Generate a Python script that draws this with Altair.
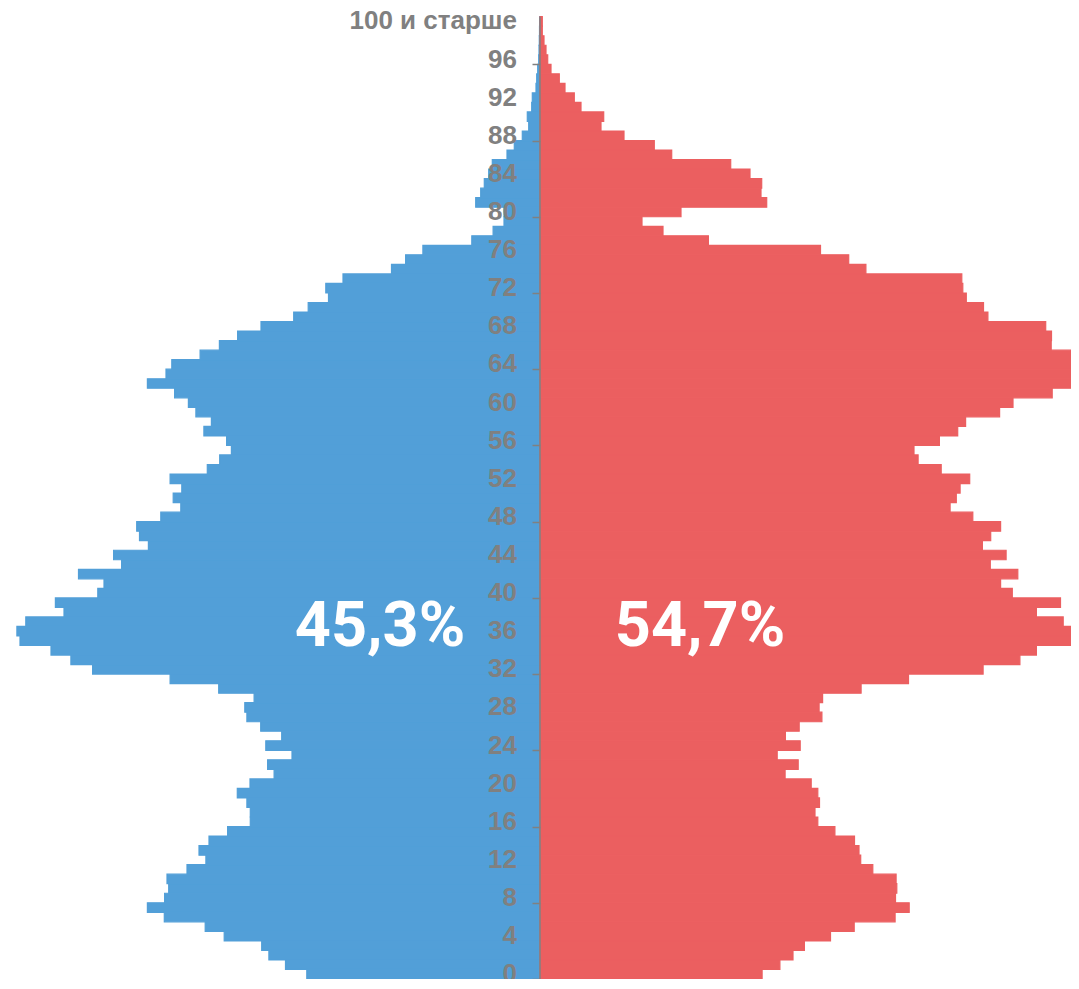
import altair as alt
import pandas as pd

# ---- data (arbitrary units) ----
ages = list(range(101))
male = [233.2, 254.5, 271.1, 278.3, 315.8, 334.8, 375.7, 392.6, 375.4, 371.3,
        373.0, 353.0, 334.1, 341.0, 331.0, 312.4, 289.7, 289.7, 293.1, 302.7,
        290.0, 265.9, 272.4, 248.0, 274.2, 258.3, 279.3, 293.1, 295.2, 285.9,
        321.3, 369.9, 447.4, 469.1, 489.0, 520.0, 523.1, 514.2, 476.0, 484.6,
        442.2, 436.0, 461.5, 418.4, 426.4, 391.6, 400.5, 403.3, 379.2, 359.2,
        366.8, 358.2, 369.9, 332.7, 320.3, 308.6, 313.4, 336.1, 328.6, 344.1,
        351.6, 365.4, 392.6, 374.0, 368.2, 339.9, 320.6, 302.4, 279.0, 246.3,
        231.8, 211.5, 214.2, 197.0, 148.5, 134.4, 117.1, 68.2, 46.9, 36.0,
        36.0, 64.3, 59.3, 55.7, 51.3, 47.7, 33.0, 25.7, 17.7, 11.3,
        12.7, 8.3, 7.7, 4.0, 3.3, 2.3, 1.3, 1.0, 0.7, 0.5,
        0.3]
female = [222.1, 239.9, 253.0, 264.4, 290.5, 314.2, 355.1, 369.2, 355.5, 356.8,
          356.1, 332.8, 320.7, 319.0, 314.5, 294.9, 277.8, 275.0, 279.5, 277.8,
          271.2, 245.1, 258.2, 237.2, 260.2, 245.4, 259.2, 281.9, 279.1, 282.6,
          321.1, 368.5, 443.1, 479.9, 496.4, 533.9, 542.0, 523.2, 496.4, 520.5,
          472.3, 460.6, 477.8, 450.3, 466.1, 442.4, 450.7, 460.6, 432.8, 410.1,
          416.3, 420.1, 429.7, 401.2, 378.1, 374.0, 399.4, 417.7, 425.6, 459.6,
          473.0, 512.2, 550.0, 552.0, 545.0, 531.1, 511.2, 511.5, 505.7, 447.9,
          443.5, 426.3, 422.8, 421.8, 325.9, 308.7, 280.5, 168.4, 123.0, 102.0,
          141.0, 226.7, 221.0, 221.7, 210.0, 190.7, 131.7, 114.3, 84.0, 61.0,
          63.7, 41.0, 34.3, 25.0, 19.3, 11.0, 7.7, 6.0, 4.0, 2.3,
          2.3]
label_ages = list(range(0, 101, 4))
tick_labels = [str(a) for a in label_ages[:-1]] + ["100 и старше"]
shares = ["45,3%", "54,7%"]
share_sex = ["male", "female"]

BLUE = "#529fd8"
RED = "#eb5f60"
GREY = "#808080"

W, H = 1063, 971
XMIN, XMAX = -532, 531
YMIN, YMAX = -0.5, 101.41

rows = []
for a, m, f in zip(ages, male, female):
    rows.append({"age": a, "sex": "male", "value": -m})
    rows.append({"age": a, "sex": "female", "value": f})
df = pd.DataFrame(rows)

xscale = alt.Scale(domain=[XMIN, XMAX], nice=False, zero=False)
yscale = alt.Scale(domain=[YMIN, YMAX], nice=False, zero=False)
cscale = alt.Scale(domain=["male", "female"], range=[BLUE, RED])

boundaries = [a - 0.5 for a in ages] + [ages[-1] + 0.5]
axis_offset = -W * (0 - XMIN) / (XMAX - XMIN)

yaxis = alt.Axis(
    values=boundaries,
    labels=False,
    title=None,
    domain=False,
    grid=False,
    offset=axis_offset,
    zindex=1,
    tickColor=GREY,
    tickSize=8,
    tickWidth=1.5,
)

bars = (
    alt.Chart(df)
    .transform_calculate(y0="datum.age - 0.5", y1="datum.age + 0.5")
    .mark_rect(clip=True, strokeWidth=1.2)
    .encode(
        x=alt.X("value:Q", scale=xscale, axis=None),
        x2=alt.datum(0),
        y=alt.Y("y0:Q", scale=yscale, axis=yaxis),
        y2="y1:Q",
        color=alt.Color("sex:N", scale=cscale, legend=None),
        stroke=alt.Stroke("sex:N", scale=cscale, legend=None),
    )
)

axis_line = (
    alt.Chart(pd.DataFrame({"y0": [ages[0] - 0.5], "y1": [ages[-1] + 0.5], "x": [0]}))
    .mark_rule(color=GREY, strokeWidth=1.5)
    .encode(
        x=alt.X("x:Q", scale=xscale, axis=None),
        y=alt.Y("y0:Q", scale=yscale),
        y2="y1:Q",
    )
)

lab_df = pd.DataFrame({"age": label_ages, "label": tick_labels, "x": [0] * len(label_ages)})
age_labels = (
    alt.Chart(lab_df)
    .mark_text(
        font="Liberation Sans",
        fontSize=26,
        fontWeight="bold",
        color=GREY,
        align="right",
        baseline="middle",
        dx=-23,
    )
    .encode(
        x=alt.X("x:Q", scale=xscale, axis=None),
        y=alt.Y("age:Q", scale=yscale),
        text="label:N",
    )
)

ann = pd.DataFrame({"label": shares, "sex": share_sex, "x": [-160, 160], "y": [34.5, 34.5]})
texts = (
    alt.Chart(ann)
    .mark_text(
        color="white",
        font="Roboto",
        fontSize=63,
        fontWeight="bold",
        align="center",
        baseline="alphabetic",
    )
    .encode(
        x=alt.X("x:Q", scale=xscale, axis=None),
        y=alt.Y("y:Q", scale=yscale),
        text="label:N",
    )
)

chart = (
    alt.layer(bars, axis_line, age_labels, texts)
    .properties(width=W, height=H, padding=0, autosize=alt.AutoSizeParams(type="none"))
    .configure_view(stroke=None)
)

chart.save("out.html", embed_options={"renderer": "svg", "actions": False})
